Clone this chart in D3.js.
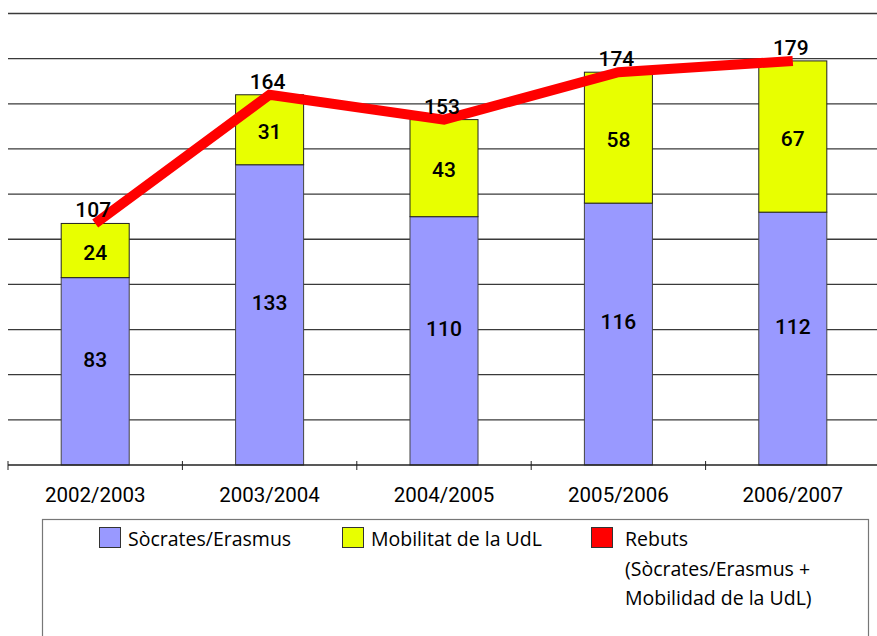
<!DOCTYPE html>
<html>
<head>
<meta charset="utf-8">
<script src="https://cdn.jsdelivr.net/npm/d3@7"></script>
<style>
  html, body { margin: 0; padding: 0; background: #fff; }
  svg { display: block; }
  text { font-family: "Open Sans", "DejaVu Sans", sans-serif; fill: #000; }
</style>
</head>
<body>
<svg id="chart" width="877" height="636"></svg>
<script>
const categories = ["2002/2003", "2003/2004", "2004/2005", "2005/2006", "2006/2007"];
const socrates = [83, 133, 110, 116, 112];
const mobilitat = [24, 31, 43, 58, 67];
const rebuts = [107, 164, 153, 174, 179];
const yTicks = [0, 20, 40, 60, 80, 100, 120, 140, 160, 180, 200];
const seriesNames = ["Sòcrates/Erasmus", "Mobilitat de la UdL", "Rebuts"];
const rebutsLines = ["Rebuts", "(Sòcrates/Erasmus +", "Mobilidad de la UdL)"];

const colors = { soc: "#9999ff", mob: "#e8ff00", reb: "#ff0000" };

const svg = d3.select("#chart");
const W = 877, H = 636;
const x0 = 8, x1 = 880, yBase = 465, yTop = 13.5;

const x = d3.scaleBand().domain(categories).range([x0, x1]).paddingInner(0.61).paddingOuter(0.305);
const y = d3.scaleLinear().domain([0, 200]).range([yBase, yTop]);
const xc = d => x(d) + x.bandwidth() / 2;

// gridlines
svg.append("g").selectAll("line").data(yTicks.filter(t => t > 0)).join("line")
  .attr("x1", x0).attr("x2", W).attr("y1", d => y(d)).attr("y2", d => y(d))
  .attr("stroke", "#3a3a3a").attr("stroke-width", 1.3);

// bars
const rows = categories.map((c, i) => ({ c, soc: socrates[i], mob: mobilitat[i], tot: rebuts[i] }));
const gBars = svg.append("g");
gBars.selectAll("rect.soc").data(rows).join("rect")
  .attr("x", d => x(d.c)).attr("width", x.bandwidth())
  .attr("y", d => y(d.soc)).attr("height", d => y(0) - y(d.soc))
  .attr("fill", colors.soc).attr("stroke", "#444").attr("stroke-width", 1);
gBars.selectAll("rect.mob").data(rows).join("rect")
  .attr("x", d => x(d.c)).attr("width", x.bandwidth())
  .attr("y", d => y(d.soc + d.mob)).attr("height", d => y(d.soc) - y(d.soc + d.mob))
  .attr("fill", colors.mob).attr("stroke", "#222").attr("stroke-width", 1);

// x axis
const xAxisLine = d3.scaleLinear().domain([0, 5]).range([x0, x1]);
svg.append("line").attr("x1", x0).attr("x2", W).attr("y1", yBase).attr("y2", yBase)
  .attr("stroke", "#222").attr("stroke-width", 1.5);
svg.append("g").selectAll("line").data(d3.range(0, 5)).join("line")
  .attr("x1", d => xAxisLine(d)).attr("x2", d => xAxisLine(d))
  .attr("y1", yBase - 4).attr("y2", yBase + 5)
  .attr("stroke", "#222").attr("stroke-width", 1);
svg.append("g").selectAll("text").data(categories).join("text")
  .attr("x", d => xc(d)).attr("y", 502)
  .attr("text-anchor", "middle").style("font-family", "Roboto, sans-serif").style("font-size", "20.5px")
  .text(d => d);

// segment labels
const labelStyle = sel => sel.attr("text-anchor", "middle")
  .style("font-family", "Roboto, sans-serif").style("font-size", "21px").style("font-weight", 500);
svg.append("g").selectAll("text").data(rows).join("text")
  .call(labelStyle)
  .attr("x", d => xc(d.c)).attr("y", d => (y(0) + y(d.soc)) / 2 - 12)
  .attr("dy", "0.35em").text(d => d.soc);
svg.append("g").selectAll("text").data(rows).join("text")
  .call(labelStyle)
  .attr("x", d => xc(d.c)).attr("y", d => (y(d.soc) + y(d.soc + d.mob)) / 2 + 2)
  .attr("dy", "0.35em").text(d => d.mob);

// line
const line = d3.line().x(d => xc(d.c)).y(d => y(d.tot));
svg.append("path").datum(rows).attr("d", line)
  .attr("fill", "none").attr("stroke", colors.reb).attr("stroke-width", 10)
  .attr("stroke-linejoin", "miter").attr("stroke-linecap", "butt");
svg.append("g").selectAll("text").data(rows).join("text")
  .call(labelStyle)
  .attr("x", d => xc(d.c) - 2).attr("y", d => y(d.tot) - 6)
  .text(d => d.tot);

// legend
svg.append("rect").attr("x", 42.5).attr("y", 519.5).attr("width", 826).attr("height", 140)
  .attr("fill", "#fff").attr("stroke", "#777").attr("stroke-width", 1.2);
const legendItems = [
  { name: seriesNames[0], color: colors.soc, sx: 99, tx: 128, lines: [seriesNames[0]] },
  { name: seriesNames[1], color: colors.mob, sx: 342, tx: 371, lines: [seriesNames[1]] },
  { name: seriesNames[2], color: colors.reb, sx: 591, tx: 625, lines: rebutsLines }
];
const lg = svg.append("g").selectAll("g").data(legendItems).join("g");
lg.append("rect").attr("x", d => d.sx + 0.5).attr("y", 527.5).attr("width", 21).attr("height", 20)
  .attr("fill", d => d.color).attr("stroke", "#333").attr("stroke-width", 1);
lg.each(function(d) {
  d3.select(this).selectAll("text").data(d.lines).join("text")
    .attr("x", d.tx).attr("y", (t, i) => 546 + i * 29.5)
    .style("font-size", "19.5px").text(t => t);
});
</script>
</body>
</html>
